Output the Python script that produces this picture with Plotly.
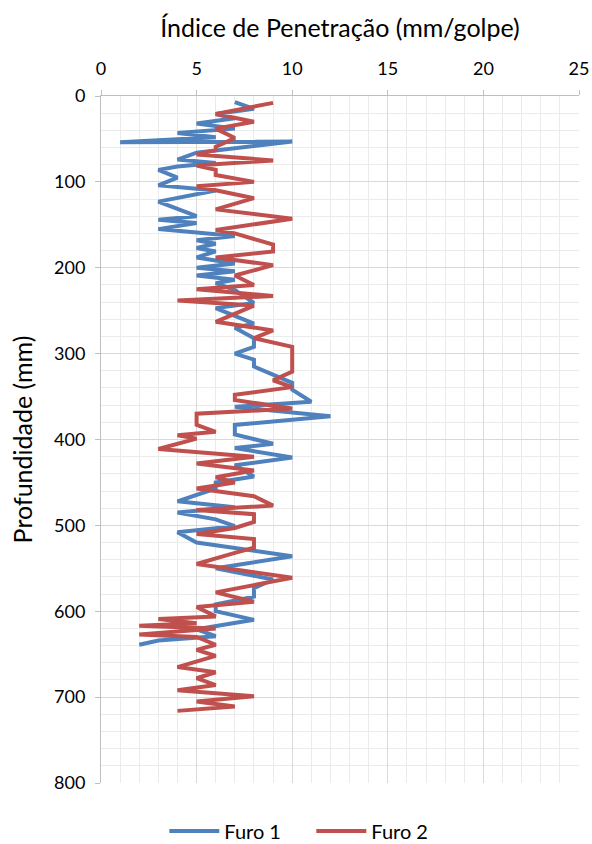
import plotly.graph_objects as go

# Furo 1 (blue)
furo1_indice = [7, 8, 6, 7, 5, 7, 4, 6, 1, 10, 5, 4, 6, 4, 3, 4, 3, 6, 3, 4,
                5, 3, 5, 3, 7, 5, 6, 5, 6, 5, 7, 5, 7, 5, 7, 6, 7, 8, 6, 8,
                7, 8, 8, 7, 8, 8, 10, 10, 11, 7, 12, 7, 7, 9, 7, 10, 7, 8, 6, 6,
                4, 7, 4, 6, 7, 4, 5, 10, 6, 9, 8, 8, 6, 6, 8, 5, 6, 3, 2]
furo1_prof = [7, 15, 21, 26, 32, 38, 43, 48, 54, 53, 66, 74, 78, 82, 86, 95, 104, 110, 123, 132,
              140, 144, 148, 155, 163, 168, 172, 177, 181, 188, 195, 200, 204, 209, 214, 218, 226, 241, 247, 265,
              270, 282, 292, 300, 307, 315, 334, 342, 356, 362, 373, 383, 394, 405, 410, 421, 430, 443, 450, 457,
              472, 479, 485, 493, 501, 508, 520, 536, 550, 563, 573, 583, 592, 600, 610, 621, 629, 634, 639]

# Furo 2 (red)
furo2_indice = [9, 6, 8, 6, 7, 6, 6, 5, 9, 5, 6, 6, 8, 5, 8, 6, 10, 6, 7, 9,
                9, 6, 9, 7, 8, 5, 9, 4, 8, 6, 9, 8, 10, 10, 9, 10, 7, 7, 10, 5,
                5, 6, 4, 5, 3, 8, 5, 8, 6, 7, 5, 8, 9, 5, 8, 8, 7, 5, 8, 8,
                7, 5, 10, 6, 8, 5, 6, 3, 5, 2, 6, 2, 5, 6, 5, 6, 4, 6, 5, 6,
                4, 8, 5, 7, 4]
furo2_prof = [8, 21, 30, 38, 49, 59, 63, 68, 75, 81, 86, 92, 100, 105, 119, 132, 143, 156, 160, 173,
              181, 188, 197, 209, 220, 225, 233, 238, 244, 263, 273, 282, 292, 321, 331, 339, 348, 354, 364, 370,
              383, 391, 395, 399, 411, 420, 428, 436, 444, 450, 457, 466, 477, 482, 487, 496, 503, 510, 516, 526,
              532, 545, 561, 578, 589, 595, 606, 609, 614, 617, 620, 627, 630, 639, 645, 652, 665, 671, 678, 686,
              692, 699, 705, 711, 716]

x_ticks = [0, 5, 10, 15, 20, 25]
y_ticks = [0, 100, 200, 300, 400, 500, 600, 700, 800]

FONT = "Lato"
fig = go.Figure()
fig.add_trace(go.Scatter(x=furo1_indice, y=furo1_prof, mode="lines", name="Furo 1",
                         line=dict(color="#4F81BD", width=4)))
fig.add_trace(go.Scatter(x=furo2_indice, y=furo2_prof, mode="lines", name="Furo 2",
                         line=dict(color="#C0504D", width=4)))

fig.update_layout(
    width=592, height=844,
    margin=dict(l=101, r=13, t=96, b=61),
    paper_bgcolor="white", plot_bgcolor="white",
    font=dict(family=FONT, size=17, color="#000000"),
    showlegend=True,
    legend=dict(orientation="h", x=0.44, xanchor="center", xref="paper",
                y=0.0154, yanchor="middle", yref="container",
                font=dict(size=20), itemwidth=50, entrywidth=82, traceorder="normal"),
    xaxis=dict(
        side="top", range=[0, 25], tickvals=x_ticks, ticktext=[str(v) for v in x_ticks],
        showgrid=True, gridcolor="#D9D9D9", gridwidth=1,
        minor=dict(dtick=1, showgrid=True, gridcolor="#EBEBEB", gridwidth=1),
        showline=True, linecolor="#BFBFBF", linewidth=1,
        ticks="outside", ticklen=5, tickcolor="#BFBFBF",
        ticklabelstandoff=8,
        zeroline=False, automargin=False,
        title=dict(text="Índice de Penetração (mm/golpe)", font=dict(size=25), standoff=12),
        tickfont=dict(size=18),
    ),
    yaxis=dict(
        range=[800, 0], tickvals=y_ticks, ticktext=[str(v) for v in y_ticks],
        showgrid=True, gridcolor="#D9D9D9", gridwidth=1,
        minor=dict(dtick=20, showgrid=True, gridcolor="#EBEBEB", gridwidth=1),
        showline=True, linecolor="#BFBFBF", linewidth=1,
        ticks="outside", ticklen=5, tickcolor="#BFBFBF",
        ticklabelstandoff=6,
        zeroline=False, automargin=False,
        title=dict(text="Profundidade (mm)", font=dict(size=25), standoff=14),
        tickfont=dict(size=18),
    ),
)

fig.write_html("out.html", config={"displayModeBar": False},
               post_script="document.body.style.margin='0px'; document.body.style.overflow='hidden';")
